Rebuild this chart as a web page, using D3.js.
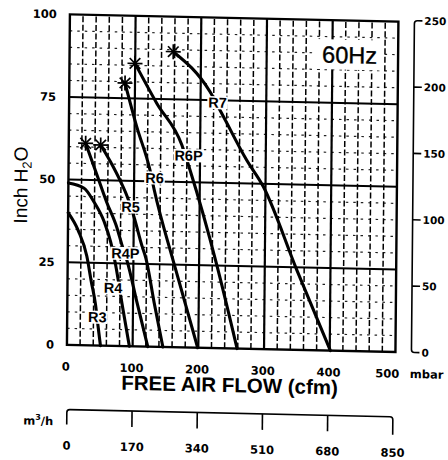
<!DOCTYPE html>
<html><head><meta charset="utf-8">
<script src="https://cdn.jsdelivr.net/npm/d3@7"></script>
<style>body{margin:0;background:#fff}svg{display:block}</style>
</head><body>
<svg id="chart" width="448" height="460"></svg>
<script>
// ---- data ----
const flowTicks = [0, 100, 200, 300, 400, 500];      // cfm
const pressTicks = [0, 25, 50, 75, 100];             // inch H2O
const mbarTicks = [0, 50, 100, 150, 200, 250];       // mbar
const m3hTicks = [0, 170, 340, 510, 680, 850];       // m3/h
const models = ["R3", "R4", "R4P", "R5", "R6", "R6P", "R7"];

const R3_flow  = [0, 16, 29, 36, 43, 47, 51];
const R3_press = [40, 34.5, 27, 19.5, 12.3, 6, 0];
const R4_flow  = [0, 24, 39, 55, 65, 73, 84, 95];
const R4_press = [49, 47.5, 43.5, 37.5, 31.5, 24.5, 12, 0];
const R4P_flow  = [25.7, 43.4, 58.4, 74.6, 82.3, 90.7, 106, 123];
const R4P_press = [61.1, 51.6, 43.5, 35.7, 30.6, 25.6, 13.3, 0];
const R5_flow  = [48.6, 64, 79.6, 89.8, 100.2, 113.2, 119, 132, 146];
const R5_press = [60.7, 55.6, 49.7, 45.2, 39.2, 30.2, 26.7, 13.5, 0];
const R6_flow  = [84.8, 103.2, 124, 130.3, 163.3, 199];
const R6_press = [79.6, 66.5, 53.4, 47.8, 24.3, 0];
const R6P_flow  = [99.7, 133.3, 172, 184.9, 226.8, 259];
const R6P_press = [85.6, 73.7, 61.3, 53.7, 25.3, 0];
const R7_flow  = [157.8, 214.3, 232.3, 270.9, 296.6, 348.7, 401];
const R7_press = [89.4, 77.5, 71.1, 57.1, 49.2, 24.2, 0];
// which curves start with a limit asterisk
const hasStar = [false, false, true, true, true, true, true];
// label anchors (in data units: cfm, inch H2O)
const labelFlow  = [46, 69.3, 87.8, 95.1, 131, 182.5, 225.9];
const labelPress = [8.6, 17.6, 28.1, 42.2, 51.1, 58.1, 74.3];

const flows = [R3_flow, R4_flow, R4P_flow, R5_flow, R6_flow, R6P_flow, R7_flow];
const presses = [R3_press, R4_press, R4P_press, R5_press, R6_press, R6P_press, R7_press];

// ---- scales ----
const x = d3.scaleLinear([0, 500], [68, 396.5]);
const y = d3.scaleLinear([0, 100], [348.3, 17.8]);
const yMbar = d3.scaleLinear([0, 250], [y(0), y(250 / 2.49089)]);
const xM3h = d3.scaleLinear([0, 850], [68.5, 394.5]);

const svg = d3.select("#chart");
// slight skew like the scanned original
const root = svg.append("g").attr("transform", "matrix(1,0.022,-0.009,1,2.07,-4.93)");

const sans = "'Liberation Sans', Arial, Helvetica, sans-serif";
const wide = "'DejaVu Sans', Verdana, sans-serif";

// ---- grid ----
const grid = root.append("g");
const minorFlow = d3.range(20, 500, 20).filter(v => v % 100 !== 0);
const minorPress = d3.range(5, 100, 5).filter(v => v % 25 !== 0);
grid.selectAll(".hminor").data(minorPress).join("line")
  .attr("x1", x(0)).attr("x2", x(500)).attr("y1", d => y(d)).attr("y2", d => y(d))
  .attr("stroke", "#222").attr("stroke-width", 1.2).attr("stroke-dasharray", "2.5,5");
grid.selectAll(".vminor").data(minorFlow).join("line")
  .attr("x1", d => x(d)).attr("x2", d => x(d)).attr("y1", y(0)).attr("y2", y(100))
  .attr("stroke", "#000").attr("stroke-width", 1.5).attr("stroke-dasharray", "6,2.5");
grid.selectAll(".hmajor").data(pressTicks.slice(1, -1)).join("line")
  .attr("x1", x(0)).attr("x2", x(500)).attr("y1", d => y(d)).attr("y2", d => y(d))
  .attr("stroke", "#000").attr("stroke-width", 2);
grid.selectAll(".vmajor").data(flowTicks.slice(1, -1)).join("line")
  .attr("x1", d => x(d)).attr("x2", d => x(d)).attr("y1", y(0)).attr("y2", y(100))
  .attr("stroke", "#000").attr("stroke-width", 2.2);

// ---- 60Hz box ----
root.append("rect").attr("x", 315).attr("y", 37).attr("width", 66).attr("height", 30).attr("fill", "#fff");
root.append("text").attr("x", 348).attr("y", 60.5).attr("text-anchor", "middle")
  .attr("font-family", sans).attr("font-size", 23.5).attr("fill", "#000")
  .attr("stroke", "#000").attr("stroke-width", 0.4).text("60Hz");

// ---- curves ----
const line = d3.line().x(d => x(d[0])).y(d => y(d[1])).curve(d3.curveMonotoneX);
const curves = root.append("g");
models.forEach((m, i) => {
  const pts = flows[i].map((f, k) => [f, presses[i][k]]);
  curves.append("path").attr("d", line(pts)).attr("fill", "none")
    .attr("stroke", "#000").attr("stroke-width", 3.1).attr("stroke-linecap", "round");
  if (hasStar[i]) {
    const cx = x(pts[0][0]), cy = y(pts[0][1]);
    const g = curves.append("g").attr("transform", `translate(${cx},${cy})`);
    [0, 45, 90, 135].forEach(a => {
      const r = 7.5, rad = a * Math.PI / 180;
      g.append("line").attr("x1", -r * Math.cos(rad)).attr("y1", -r * Math.sin(rad))
        .attr("x2", r * Math.cos(rad)).attr("y2", r * Math.sin(rad))
        .attr("stroke", "#000").attr("stroke-width", 1.7);
    });
  }
});

// ---- model labels ----
const labs = root.append("g");
models.forEach((m, i) => {
  const t = labs.append("text").attr("x", x(labelFlow[i])).attr("y", y(labelPress[i]))
    .attr("dy", "0.36em").attr("text-anchor", "middle")
    .attr("font-family", sans).attr("font-weight", "bold").attr("font-size", 14.5)
    .attr("fill", "#000").text(m);
  const b = t.node().getBBox();
  labs.insert("rect", "text").attr("x", b.x - 1).attr("y", b.y + 1.5)
    .attr("width", b.width + 2).attr("height", b.height - 3).attr("fill", "#fff");
});
labs.selectAll("text").raise();

// ---- frame ----
root.append("rect").attr("x", x(0)).attr("y", y(100)).attr("width", x(500) - x(0))
  .attr("height", y(0) - y(100)).attr("fill", "none").attr("stroke", "#000").attr("stroke-width", 2.4);

// ---- left axis labels ----
root.append("g").selectAll("text").data(pressTicks).join("text")
  .attr("x", 55).attr("y", d => y(d)).attr("dy", "0.36em").attr("text-anchor", "end")
  .attr("font-family", wide).attr("font-weight", "bold").attr("font-size", 11.5).text(d => d);

root.append("text").attr("transform", `translate(27,189.5) rotate(-90)`)
  .attr("text-anchor", "middle").attr("font-family", sans).attr("font-size", 19)
  .call(t => {
    t.append("tspan").text("Inch H");
    t.append("tspan").attr("font-size", 13).attr("dy", 4).text("2");
    t.append("tspan").attr("dy", -4).text("O");
  });

// ---- bottom cfm labels ----
root.append("g").selectAll("text").data(flowTicks).join("text")
  .attr("x", d => x(d)).attr("dx", d => d === 500 ? -8 : -1).attr("y", 374).attr("text-anchor", "middle")
  .attr("font-family", wide).attr("font-weight", "bold").attr("font-size", 11.5).text(d => d);
root.append("text").attr("x", 411).attr("y", 374).attr("font-family", wide)
  .attr("font-weight", "bold").attr("font-size", 11.5).text("mbar");
root.append("text").attr("x", 231).attr("y", 392).attr("text-anchor", "middle")
  .attr("font-family", sans).attr("font-weight", "bold").attr("font-size", 20.5).text("FREE AIR FLOW (cfm)");

// ---- right mbar axis ----
const ax = 412.5, r0 = yMbar(0), r1 = yMbar(250);
const right = root.append("g").attr("fill", "none").attr("stroke", "#000").attr("stroke-width", 1.6);
right.append("path").attr("d",
  `M${ax + 8},${r1} L${ax + 3},${r1} Q${ax},${r1} ${ax},${r1 + 3} L${ax},${r0 - 3} Q${ax},${r0} ${ax + 3},${r0} L${ax + 8},${r0}`);
right.selectAll("line").data(mbarTicks.slice(1, -1)).join("line")
  .attr("x1", ax).attr("x2", ax + 8).attr("y1", d => yMbar(d)).attr("y2", d => yMbar(d));
root.append("g").selectAll("text").data(mbarTicks).join("text")
  .attr("x", 422.5).attr("y", d => yMbar(d)).attr("dy", "0.36em")
  .attr("font-family", wide).attr("font-weight", "bold").attr("font-size", 10.5).text(d => d);

// ---- bottom m3/h axis ----
const by = 413;
const m0 = xM3h(0), m1 = xM3h(850);
const bot = root.append("g").attr("fill", "none").attr("stroke", "#000").attr("stroke-width", 1.6);
bot.append("path").attr("d",
  `M${m0},${by + 15} L${m0},${by + 3} Q${m0},${by} ${m0 + 3},${by} L${m1 - 3},${by} Q${m1},${by} ${m1},${by + 3} L${m1},${by + 18}`);
bot.selectAll("line").data(m3hTicks.slice(1, -1)).join("line")
  .attr("x1", d => xM3h(d)).attr("x2", d => xM3h(d)).attr("y1", by).attr("y2", by + 16);
root.append("g").selectAll("text").data(m3hTicks).join("text")
  .attr("x", d => xM3h(d)).attr("y", 453).attr("text-anchor", "middle")
  .attr("font-family", wide).attr("font-weight", "bold").attr("font-size", 11.5).text(d => d);
root.append("text").attr("x", 25).attr("y", 429).attr("font-family", wide)
  .attr("font-weight", "bold").attr("font-size", 11.5)
  .call(t => {
    t.append("tspan").text("m");
    t.append("tspan").attr("font-size", 8).attr("dy", -5).text("3");
    t.append("tspan").attr("dy", 5).text("/h");
  });
</script>
</body></html>
